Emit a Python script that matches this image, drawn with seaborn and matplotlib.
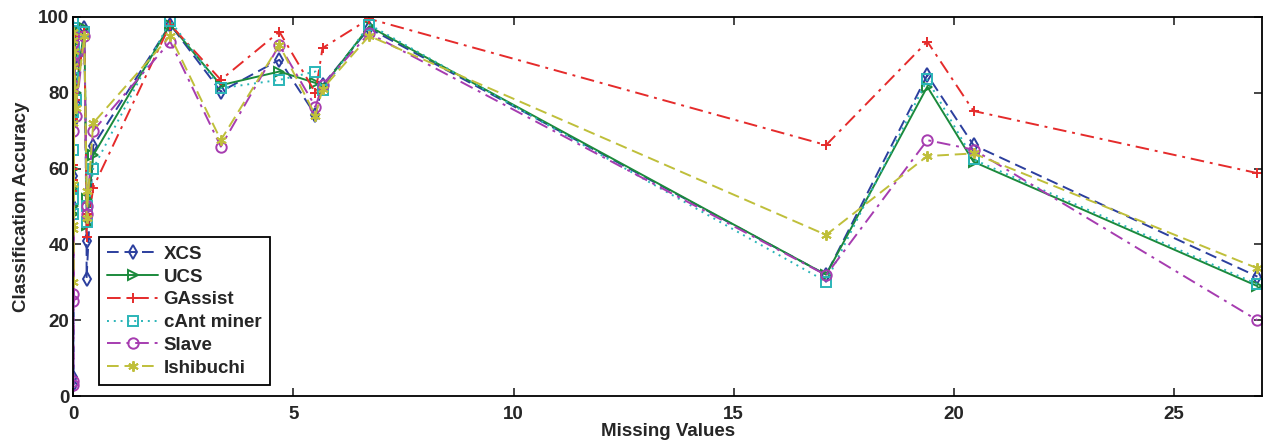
import pandas as pd
import matplotlib
matplotlib.use('Agg')
import matplotlib.pyplot as plt
import seaborn as sns

# missing values (%) per dataset, sorted
missing = [0, 0, 0, 0, 0, 0, 0, 0, 0, 0.02, 0.05, 0.25, 0.3, 0.3, 0.45,
           2.2, 3.35, 4.68, 5.5, 5.66, 6.72, 17.1, 19.4, 20.45, 26.9]

xcs = [96, 83, 5, 3, 72, 94, 58, 88, 50, 91, 77, 97, 41, 31, 66,
       98, 80.3, 88.7, 74.1, 82, 97, 32, 84.7, 66.2, 31.5]
ucs = [97, 85, 50, 48, 74, 96, 60, 90, 55, 93, 80, 97, 52, 45, 63.5,
       98, 82, 85.6, 82.6, 81.5, 97.5, 32, 81.6, 61.8, 29]
gassist = [96, 80, 60, 57, 73, 95, 61, 89, 54, 94, 78, 96, 48, 42, 55,
           98, 83.4, 96.1, 80, 91.8, 99.5, 66.2, 93.5, 75.2, 58.8]
cant = [99, 84, 52, 48, 75, 97, 65, 90, 55, 92, 78, 96, 50, 46, 60,
        99, 81.2, 83.4, 85.6, 80.7, 98, 30.2, 83.5, 62.4, 29.5]
slave = [95, 82, 4, 3, 70, 93, 27, 88, 25, 90, 74, 95, 50, 48, 70,
         93.5, 65.8, 92.6, 76.3, 82, 95.7, 31.9, 67.5, 65, 20]
ishibuchi = [96, 81, 45, 44, 72, 94, 56, 87, 30, 91, 76, 95, 54, 47, 72,
             95, 67.5, 92.6, 74, 81, 95, 42.5, 63.3, 64, 33.7]

methods = ['XCS', 'UCS', 'GAssist', 'cAnt miner', 'Slave', 'Ishibuchi']
values = [xcs, ucs, gassist, cant, slave, ishibuchi]
colors = ['#2c3f9e', '#1b8a3c', '#e52b2b', '#2bb5b8', '#a63cb0', '#bfbf3a']
markers = ['d', '>', '+', 's', 'o', (6, 2, 0)]
styles = [(0, (6, 3)), '-', (0, (7, 3, 1.5, 3)), (0, (1, 2.5)), (0, (7, 3, 1.5, 3)), (0, (6, 3))]

df = pd.DataFrame({'missing': missing * len(methods),
                   'accuracy': sum(values, []),
                   'method': [m for m in methods for _ in missing]})

sns.set_style('ticks')
plt.rcParams['font.family'] = ['Liberation Sans', 'DejaVu Sans']
plt.rcParams['font.weight'] = 'bold'

fig = plt.figure(figsize=(12.65, 4.46), dpi=100)
ax = fig.add_axes([0.058, 0.112, 0.9395, 0.85])

for m, c, mk, ls in zip(methods, colors, markers, styles):
    sub = df[df['method'] == m]
    sns.lineplot(data=sub, x='missing', y='accuracy', ax=ax, estimator=None, sort=False,
                 color=c, marker=mk, linestyle=ls, linewidth=1.4, markersize=7.5,
                 markerfacecolor='none', markeredgecolor=c, markeredgewidth=1.4, label=m)

ax.set_xlim(0, 27)
ax.set_ylim(0, 100)
ax.set_xticks([0, 5, 10, 15, 20, 25])
ax.set_yticks([0, 20, 40, 60, 80, 100])
ax.tick_params(direction='in', top=True, right=True, length=6, width=1.2, labelsize=13.5)
ax.tick_params(axis='x', pad=7)
ax.tick_params(axis='y', pad=3)
for lbl in ax.get_xticklabels() + ax.get_yticklabels():
    lbl.set_fontweight('bold')
for s in ax.spines.values():
    s.set_linewidth(1.3)
    s.set_color('black')
ax.set_xlabel('Missing Values', fontsize=13.5, fontweight='bold', labelpad=0)
ax.set_ylabel('Classification Accuracy', fontsize=13.5, fontweight='bold', labelpad=6)

leg = ax.legend(loc='lower left', bbox_to_anchor=(0.0215, 0.029), borderaxespad=0,
                fancybox=False, edgecolor='black', fontsize=13.5, handlelength=2.7,
                borderpad=0.45, labelspacing=0.3, handletextpad=0.3)
leg.get_frame().set_linewidth(1.3)
leg.get_frame().set_alpha(1)

fig.savefig('out.png', dpi=100)
